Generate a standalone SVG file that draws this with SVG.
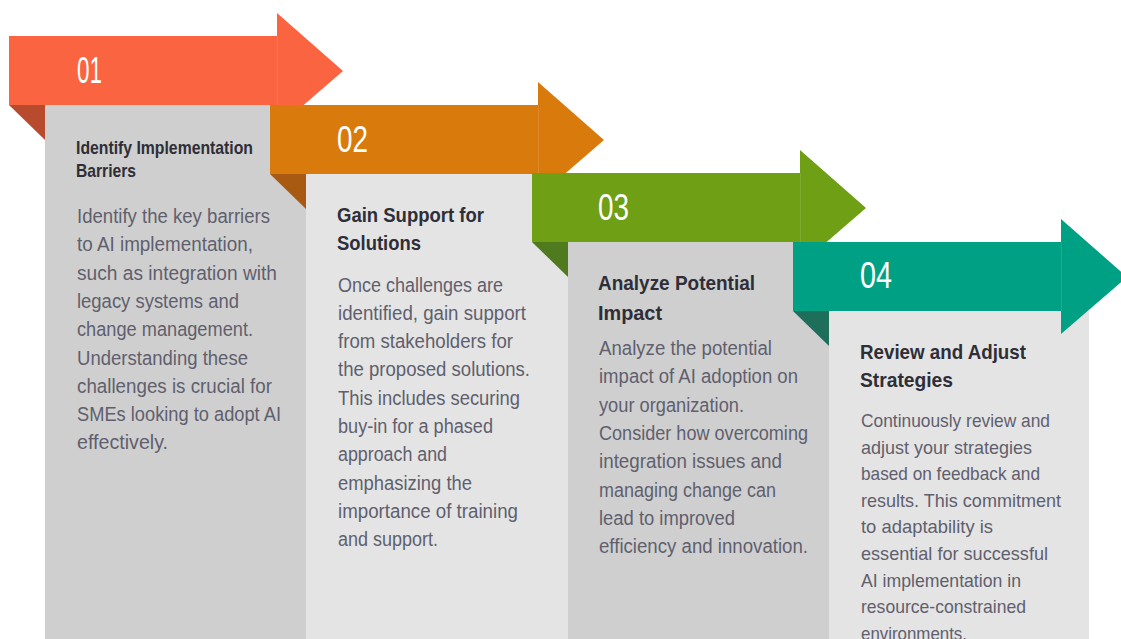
<svg xmlns="http://www.w3.org/2000/svg" width="1121" height="639" viewBox="0 0 1121 639">
<style>
.num{font-family:"Liberation Sans Narrow","Liberation Sans",sans-serif;font-size:36px;fill:#ffffff}
.hd{font-family:"Liberation Sans Narrow","Liberation Sans",sans-serif;font-weight:bold;font-size:21px;fill:#2e2e38}
.hd1{font-size:19px}
.bd{font-family:"Liberation Sans Narrow","Liberation Sans",sans-serif;font-size:19.5px;fill:#5f5f6e}
.bd4{font-size:19px}
.pA{fill:#cfcfcf}
.pB{fill:#e4e4e4}
.seam{stroke:#ffffff;stroke-opacity:0.12;stroke-width:1}
</style>
<rect width="1121" height="639" fill="#ffffff"/>
<g id="panels">
<rect class="pA" x="45" y="105" width="261" height="534"/>
<rect class="pB" x="306" y="174" width="262" height="465"/>
<rect class="pA" x="568" y="242" width="261" height="397"/>
<rect class="pB" x="829" y="311" width="260" height="328"/>
</g>
<g id="step1">
<path d="M9,36 H277 V13 L343,71 L277,128 V105 H9 Z" fill="#fa6440"/>
<line class="seam" x1="277.5" y1="36" x2="277.5" y2="105"/>
<path d="M9,105 H45 V140 Z" fill="#b84a2e"/>
<text class="num" x="77" y="83" textLength="25" lengthAdjust="spacingAndGlyphs">01</text>
<text class="hd hd1" x="76" y="154" textLength="177" lengthAdjust="spacingAndGlyphs">Identify Implementation</text>
<text class="hd hd1" x="76" y="177" textLength="60" lengthAdjust="spacingAndGlyphs">Barriers</text>
<text class="bd" x="77" y="223" textLength="193" lengthAdjust="spacingAndGlyphs">Identify the key barriers</text>
<text class="bd" x="77" y="251.3" textLength="176" lengthAdjust="spacingAndGlyphs">to AI implementation,</text>
<text class="bd" x="77" y="279.6" textLength="200" lengthAdjust="spacingAndGlyphs">such as integration with</text>
<text class="bd" x="77" y="307.9" textLength="162" lengthAdjust="spacingAndGlyphs">legacy systems and</text>
<text class="bd" x="77" y="336.2" textLength="176" lengthAdjust="spacingAndGlyphs">change management.</text>
<text class="bd" x="77" y="364.5" textLength="171" lengthAdjust="spacingAndGlyphs">Understanding these</text>
<text class="bd" x="77" y="392.8" textLength="195" lengthAdjust="spacingAndGlyphs">challenges is crucial for</text>
<text class="bd" x="77" y="421.1" textLength="204" lengthAdjust="spacingAndGlyphs">SMEs looking to adopt AI</text>
<text class="bd" x="77" y="449.4" textLength="91" lengthAdjust="spacingAndGlyphs">effectively.</text>
</g>
<g id="step2">
<path d="M270,105 H538 V82 L604,140 L538,197 V174 H270 Z" fill="#d97a0c"/>
<line class="seam" x1="538.5" y1="105" x2="538.5" y2="174"/>
<path d="M270,174 H306 V209 Z" fill="#a85a12"/>
<text class="num" x="337" y="152" textLength="31" lengthAdjust="spacingAndGlyphs">02</text>
<text class="hd" x="337" y="222" textLength="147" lengthAdjust="spacingAndGlyphs">Gain Support for</text>
<text class="hd" x="337" y="250" textLength="84" lengthAdjust="spacingAndGlyphs">Solutions</text>
<text class="bd" x="338" y="291.5" textLength="165" lengthAdjust="spacingAndGlyphs">Once challenges are</text>
<text class="bd" x="338" y="319.8" textLength="188" lengthAdjust="spacingAndGlyphs">identified, gain support</text>
<text class="bd" x="338" y="348.1" textLength="175" lengthAdjust="spacingAndGlyphs">from stakeholders for</text>
<text class="bd" x="338" y="376.4" textLength="192" lengthAdjust="spacingAndGlyphs">the proposed solutions.</text>
<text class="bd" x="338" y="404.7" textLength="182" lengthAdjust="spacingAndGlyphs">This includes securing</text>
<text class="bd" x="338" y="433" textLength="155" lengthAdjust="spacingAndGlyphs">buy-in for a phased</text>
<text class="bd" x="338" y="461.3" textLength="109" lengthAdjust="spacingAndGlyphs">approach and</text>
<text class="bd" x="338" y="489.6" textLength="134" lengthAdjust="spacingAndGlyphs">emphasizing the</text>
<text class="bd" x="338" y="517.9" textLength="180" lengthAdjust="spacingAndGlyphs">importance of training</text>
<text class="bd" x="338" y="546.2" textLength="100" lengthAdjust="spacingAndGlyphs">and support.</text>
</g>
<g id="step3">
<path d="M532,173 H800 V150 L866,208 L800,265 V242 H532 Z" fill="#6e9f15"/>
<line class="seam" x1="800.5" y1="173" x2="800.5" y2="242"/>
<path d="M532,242 H568 V277 Z" fill="#4f7a1e"/>
<text class="num" x="598" y="220" textLength="31" lengthAdjust="spacingAndGlyphs">03</text>
<text class="hd" x="598" y="290" textLength="157" lengthAdjust="spacingAndGlyphs">Analyze Potential</text>
<text class="hd" x="598" y="320" textLength="64" lengthAdjust="spacingAndGlyphs">Impact</text>
<text class="bd" x="599" y="355" textLength="173" lengthAdjust="spacingAndGlyphs">Analyze the potential</text>
<text class="bd" x="599" y="383.3" textLength="199" lengthAdjust="spacingAndGlyphs">impact of AI adoption on</text>
<text class="bd" x="599" y="411.6" textLength="145" lengthAdjust="spacingAndGlyphs">your organization.</text>
<text class="bd" x="599" y="439.9" textLength="209" lengthAdjust="spacingAndGlyphs">Consider how overcoming</text>
<text class="bd" x="599" y="468.2" textLength="183" lengthAdjust="spacingAndGlyphs">integration issues and</text>
<text class="bd" x="599" y="496.5" textLength="177" lengthAdjust="spacingAndGlyphs">managing change can</text>
<text class="bd" x="599" y="524.8" textLength="136" lengthAdjust="spacingAndGlyphs">lead to improved</text>
<text class="bd" x="599" y="553.1" textLength="209" lengthAdjust="spacingAndGlyphs">efficiency and innovation.</text>
</g>
<g id="step4">
<path d="M793,242 H1061 V219 L1127,277 L1061,334 V311 H793 Z" fill="#00a085"/>
<line class="seam" x1="1061.5" y1="242" x2="1061.5" y2="311"/>
<path d="M793,311 H829 V346 Z" fill="#1d6e5a"/>
<text class="num" x="860" y="288" textLength="32" lengthAdjust="spacingAndGlyphs">04</text>
<text class="hd" x="860" y="359" textLength="166" lengthAdjust="spacingAndGlyphs">Review and Adjust</text>
<text class="hd" x="860" y="387" textLength="93" lengthAdjust="spacingAndGlyphs">Strategies</text>
<text class="bd bd4" x="861" y="427" textLength="189" lengthAdjust="spacingAndGlyphs">Continuously review and</text>
<text class="bd bd4" x="861" y="453.6" textLength="171" lengthAdjust="spacingAndGlyphs">adjust your strategies</text>
<text class="bd bd4" x="861" y="480.2" textLength="179" lengthAdjust="spacingAndGlyphs">based on feedback and</text>
<text class="bd bd4" x="861" y="506.8" textLength="200" lengthAdjust="spacingAndGlyphs">results. This commitment</text>
<text class="bd bd4" x="861" y="533.4" textLength="132" lengthAdjust="spacingAndGlyphs">to adaptability is</text>
<text class="bd bd4" x="861" y="560" textLength="187" lengthAdjust="spacingAndGlyphs">essential for successful</text>
<text class="bd bd4" x="861" y="586.6" textLength="160" lengthAdjust="spacingAndGlyphs">AI implementation in</text>
<text class="bd bd4" x="861" y="613.2" textLength="165" lengthAdjust="spacingAndGlyphs">resource-constrained</text>
<text class="bd bd4" x="861" y="639.8" textLength="106" lengthAdjust="spacingAndGlyphs">environments.</text>
</g>
<g id="connectors"></g>
</svg>
